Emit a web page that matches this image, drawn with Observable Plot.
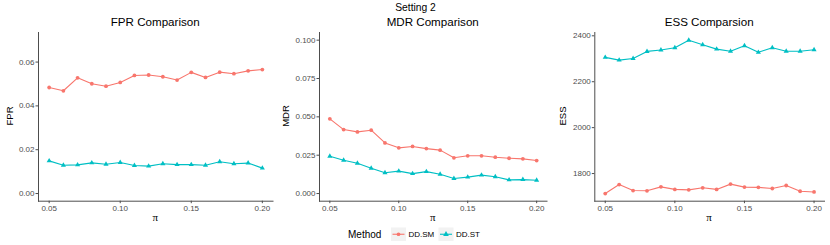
<!DOCTYPE html>
<html>
<head>
<meta charset="utf-8">
<script src="https://cdn.jsdelivr.net/npm/d3@7"></script>
<script src="https://cdn.jsdelivr.net/npm/@observablehq/plot@0.6"></script>
<style>
  body { margin: 0; background: #fff; }
  #wrap { position: relative; width: 830px; height: 245px; font-family: "Liberation Sans", Arial, sans-serif; overflow: hidden; }
  .t { position: absolute; transform: translate(-50%, -50%); white-space: nowrap; color: #000; }
  .panel { position: absolute; top: 0; }
  .rot { transform: translate(-50%, -50%) rotate(-90deg); }
  .serif { font-family: "Liberation Serif", "DejaVu Serif", serif; }
</style>
</head>
<body>
<div id="wrap"></div>
<script>
const methods = ["DD.SM", "DD.ST"];
const colors = ["#F8766D", "#00BFC4"];
const symbols = ["circle", "triangle"];
const pi = [0.05, 0.06, 0.07, 0.08, 0.09, 0.10, 0.11, 0.12, 0.13, 0.14, 0.15, 0.16, 0.17, 0.18, 0.19, 0.20];
const xTicks = [0.05, 0.10, 0.15, 0.20];

const fprSM = [0.0484, 0.0469, 0.0528, 0.0501, 0.0490, 0.0507, 0.0539, 0.0541, 0.0533, 0.0518, 0.0553, 0.0530, 0.0554, 0.0547, 0.0560, 0.0566];
const fprST = [0.0149, 0.0129, 0.0131, 0.0140, 0.0134, 0.0142, 0.0128, 0.0125, 0.0136, 0.0132, 0.0132, 0.0129, 0.0145, 0.0136, 0.0139, 0.0116];
const mdrSM = [0.0487, 0.0417, 0.0402, 0.0413, 0.0330, 0.0298, 0.0307, 0.0293, 0.0283, 0.0233, 0.0246, 0.0246, 0.0237, 0.0230, 0.0226, 0.0215];
const mdrST = [0.0243, 0.0217, 0.0198, 0.0165, 0.0135, 0.0146, 0.0130, 0.0143, 0.0126, 0.0098, 0.0107, 0.0120, 0.0109, 0.0089, 0.0091, 0.0087];
const essSM = [1713, 1752, 1726, 1725, 1742, 1731, 1729, 1738, 1731, 1754, 1741, 1740, 1735, 1748, 1723, 1720];
const essST = [2306, 2294, 2301, 2332, 2338, 2348, 2381, 2361, 2342, 2333, 2357, 2328, 2348, 2333, 2333, 2339];

const fprTicks = [0, 0.02, 0.04, 0.06];
const mdrTicks = [0, 0.025, 0.05, 0.075, 0.1];
const essTicks = [1800, 2000, 2200, 2400];

const panels = [
  {title: "FPR Comparison", ylab: "FPR", sm: fprSM, st: fprST, ticks: fprTicks, fmt: d3.format(".2f"),
   limits: [0, 0.07], left: 0, width: 277, ml: 38, mr: 4.5, ylabX: 9},
  {title: "MDR Comparison", ylab: "MDR", sm: mdrSM, st: mdrST, ticks: mdrTicks, fmt: d3.format(".3f"),
   limits: [0, 0.1], left: 277, width: 273, ml: 42, mr: 3.5, ylabX: 285},
  {title: "ESS Comparsion", ylab: "ESS", sm: essSM, st: essST, ticks: essTicks, fmt: d3.format("d"),
   limits: null, left: 550, width: 280, ml: 44.3, mr: 6, ylabX: 562}
];

const wrap = document.getElementById("wrap");
function addText(txt, x, y, size, cls = "") {
  const d = document.createElement("div");
  d.className = "t " + cls;
  d.style.left = x + "px";
  d.style.top = y + "px";
  d.style.fontSize = size + "px";
  d.textContent = txt;
  wrap.appendChild(d);
}

const H = 222, MT = 32, MB = 21.3;
const xDom = [0.05 - 0.0075, 0.20 + 0.0075];

addText("Setting 2", 415.5, 7, 10.3);

for (const p of panels) {
  const rows = [];
  pi.forEach((v, i) => {
    rows.push({pi: v, v: p.sm[i], method: methods[0]});
    rows.push({pi: v, v: p.st[i], method: methods[1]});
  });
  const lim = p.limits || d3.extent(rows, d => d.v);
  const pad = (lim[1] - lim[0]) * 0.05;
  const yDom = [lim[0] - pad, lim[1] + pad];

  const chart = Plot.plot({
    width: p.width,
    height: H,
    marginLeft: p.ml,
    marginRight: p.mr,
    marginTop: MT,
    marginBottom: MB,
    x: {domain: xDom, ticks: xTicks, tickFormat: d3.format(".2f"), line: true, tickSize: 2.5, tickPadding: 2, label: null},
    y: {domain: yDom, ticks: p.ticks, tickFormat: p.fmt, line: true, tickSize: 2.5, tickPadding: 1.5, label: null},
    color: {domain: methods, range: colors},
    symbol: {domain: methods, range: symbols},
    style: {fontFamily: "'Liberation Sans', Arial, sans-serif", fontSize: "8px", color: "#4d4d4d", background: "transparent", overflow: "visible"},
    marks: [
      Plot.line(rows, {x: "pi", y: "v", stroke: "method", strokeWidth: 1.1}),
      Plot.dot(rows, {x: "pi", y: "v", fill: "method", symbol: "method", r: 1.9, stroke: null})
    ]
  });
  chart.classList.add("panel");
  chart.style.left = p.left + "px";
  wrap.appendChild(chart);

  const cx = p.left + p.ml + (p.width - p.ml - p.mr) / 2;
  addText(p.title, cx, 21, 11.6);
  addText("π", cx, 216.5, 11, "serif");
  addText(p.ylab, p.ylabX, (MT + H - MB) / 2, 9.5, "rot");
}

// Legend
const leg = d3.select(wrap).append("svg")
  .attr("width", 830).attr("height", 23)
  .style("position", "absolute").style("left", "0px").style("top", "222px")
  .style("font-family", "'Liberation Sans', Arial, sans-serif");
leg.append("text").attr("x", 348).attr("y", 15.5).attr("font-size", 10).attr("fill", "#000").text("Method");
const keyX = [391, 438.5];
methods.forEach((m, i) => {
  const g = leg.append("g").attr("transform", `translate(${keyX[i]},5.5)`);
  g.append("rect").attr("width", 15).attr("height", 13.5).attr("fill", "#f2f2f2");
  g.append("line").attr("x1", 1.5).attr("x2", 13.5).attr("y1", 6.75).attr("y2", 6.75).attr("stroke", colors[i]).attr("stroke-width", 1.1);
  g.append("path").attr("transform", "translate(7.5,6.75)")
    .attr("d", d3.symbol(i === 0 ? d3.symbolCircle : d3.symbolTriangle, i === 0 ? 11 : 14)())
    .attr("fill", colors[i]);
  leg.append("text").attr("x", keyX[i] + 17.5).attr("y", 15).attr("font-size", 8).attr("fill", "#000").text(m);
});
</script>
</body>
</html>
